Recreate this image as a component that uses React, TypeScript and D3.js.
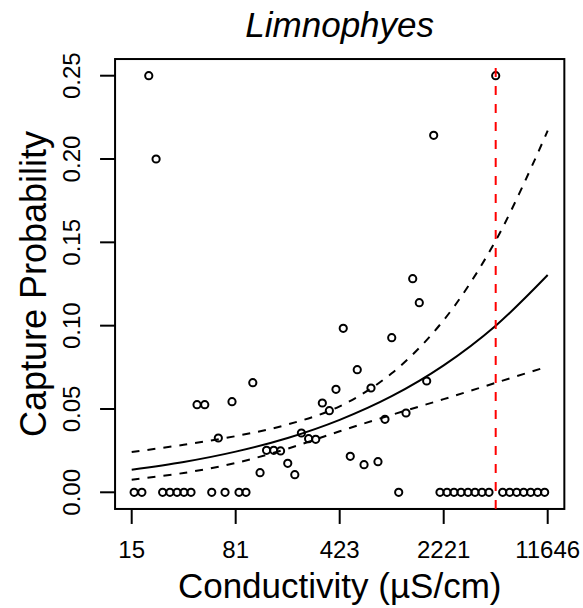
import { useMemo } from "react";
import * as d3 from "d3";

const WIDTH = 583;
const HEIGHT = 608;
// inner data range in pixels; the box is padded by 4% like R does
const INNER = { left: 131.7, right: 547.7, top: 75.7, bottom: 492.3 };
const FONT = "'Liberation Sans', Arial, Helvetica, sans-serif";

// sites with at least one capture
const hitCond = [20.2, 22.7, 1893, 5085, 1355, 1505, 448, 970, 560, 106, 399, 697, 1693, 43.6, 49.3, 76.1, 321, 359, 871, 1218, 61.2, 230, 258, 289, 132, 148, 165, 185, 501, 624, 779, 119, 207];
const hitProb = [0.25, 0.2, 0.2142, 0.25, 0.1282, 0.1138, 0.0984, 0.0928, 0.0736, 0.0658, 0.0618, 0.0626, 0.0668, 0.0526, 0.0526, 0.0544, 0.0536, 0.049, 0.0438, 0.0476, 0.0326, 0.0356, 0.0322, 0.0318, 0.0252, 0.0252, 0.0248, 0.0174, 0.0216, 0.0166, 0.0184, 0.0118, 0.0106];

// sites with no captures
const zeroCond = [16.0, 18.1, 25.2, 28.3, 31.7, 35.4, 39.6, 55.1, 68.1, 85.1, 95.1, 1084, 2093, 2341, 2617, 2926, 3270, 3657, 4088, 4569, 5685, 6355, 7104, 7941, 8877, 9923, 11095];

// fitted curve and confidence band
const curveCond = [15.39, 35.25, 80.7, 184.9, 423.3, 969.6, 2220, 5085, 11646];
const fitProb = [0.0136, 0.0182, 0.0244, 0.0326, 0.0435, 0.0577, 0.0762, 0.1, 0.1304];
const upperProb = [0.0242, 0.0285, 0.0337, 0.0407, 0.0516, 0.0714, 0.1033, 0.151, 0.217];
const lowerProb = [0.0076, 0.0116, 0.0176, 0.0262, 0.0366, 0.0465, 0.0559, 0.0657, 0.0755];

const thresholdCond = 5085;

const xTickValues = [15.39, 80.7, 423.3, 2220.4, 11646];
const xTickLabels = ["15", "81", "423", "2221", "11646"];
const yTicks = [0, 0.05, 0.1, 0.15, 0.2, 0.25];

export default function App() {
  const x = useMemo(
    () => d3.scaleLog().domain([15.39, 11646]).range([INNER.left, INNER.right]),
    []
  );
  const y = useMemo(
    () => d3.scaleLinear().domain([0, 0.25]).range([INNER.bottom, INNER.top]),
    []
  );

  const padX = (INNER.right - INNER.left) * 0.04;
  const padY = (INNER.bottom - INNER.top) * 0.04;
  const box = {
    left: INNER.left - padX,
    right: INNER.right + padX,
    top: INNER.top - padY,
    bottom: INNER.bottom + padY,
  };
  const midX = (box.left + box.right) / 2;
  const midY = (box.top + box.bottom) / 2;

  const line = (vals: number[]) =>
    d3
      .line<number>()
      .x((_, i) => x(curveCond[i]))
      .y((d) => y(d))
      .curve(d3.curveCatmullRom.alpha(0.5))(vals) ?? "";

  return (
    <svg
      width={WIDTH}
      height={HEIGHT}
      style={{ position: "absolute", left: 0, top: 0, background: "#fff" }}
      fontFamily={FONT}
    >
      <rect width={WIDTH} height={HEIGHT} fill="#fff" />
      <text x={midX} y={37} textAnchor="middle" fontSize={35} fontStyle="italic">
        Limnophyes
      </text>

      {/* plot box */}
      <rect
        x={box.left}
        y={box.top}
        width={box.right - box.left}
        height={box.bottom - box.top}
        fill="none"
        stroke="#000"
        strokeWidth={2}
      />

      {/* y axis */}
      {yTicks.map((t) => (
        <g key={t}>
          <line x1={box.left - 15} x2={box.left} y1={y(t)} y2={y(t)} stroke="#000" strokeWidth={2} />
          <text
            transform={`translate(80,${y(t)}) rotate(-90)`}
            textAnchor="middle"
            fontSize={24}
          >
            {t.toFixed(2)}
          </text>
        </g>
      ))}
      <text
        transform={`translate(46,${midY}) rotate(-90)`}
        textAnchor="middle"
        fontSize={36}
      >
        Capture Probability
      </text>

      {/* x axis */}
      <line x1={x(xTickValues[0])} x2={x(xTickValues[4])} y1={box.bottom} y2={box.bottom} stroke="#000" strokeWidth={2} />
      {xTickValues.map((t, i) => (
        <g key={t}>
          <line x1={x(t)} x2={x(t)} y1={box.bottom} y2={box.bottom + 15} stroke="#000" strokeWidth={2} />
          <text x={x(t)} y={558} textAnchor="middle" fontSize={24}>
            {xTickLabels[i]}
          </text>
        </g>
      ))}
      <text x={midX} y={598} textAnchor="middle" fontSize={35}>
        Conductivity (µS/cm)
      </text>

      {/* points */}
      {zeroCond.map((c, i) => (
        <circle key={"z" + i} cx={x(c)} cy={y(0)} r={3.6} fill="none" stroke="#000" strokeWidth={2} />
      ))}
      {hitCond.map((c, i) => (
        <circle key={"h" + i} cx={x(c)} cy={y(hitProb[i])} r={3.6} fill="none" stroke="#000" strokeWidth={2} />
      ))}

      {/* fit and band */}
      <path d={line(fitProb)} fill="none" stroke="#000" strokeWidth={2} />
      <path d={line(upperProb)} fill="none" stroke="#000" strokeWidth={2} strokeDasharray="8,8" />
      <path d={line(lowerProb)} fill="none" stroke="#000" strokeWidth={2} strokeDasharray="8,8" />

      {/* threshold */}
      <line
        x1={x(thresholdCond)}
        x2={x(thresholdCond)}
        y1={box.bottom}
        y2={box.top}
        stroke="#ff0000"
        strokeWidth={2}
        strokeDasharray="9,9"
      />
    </svg>
  );
}
